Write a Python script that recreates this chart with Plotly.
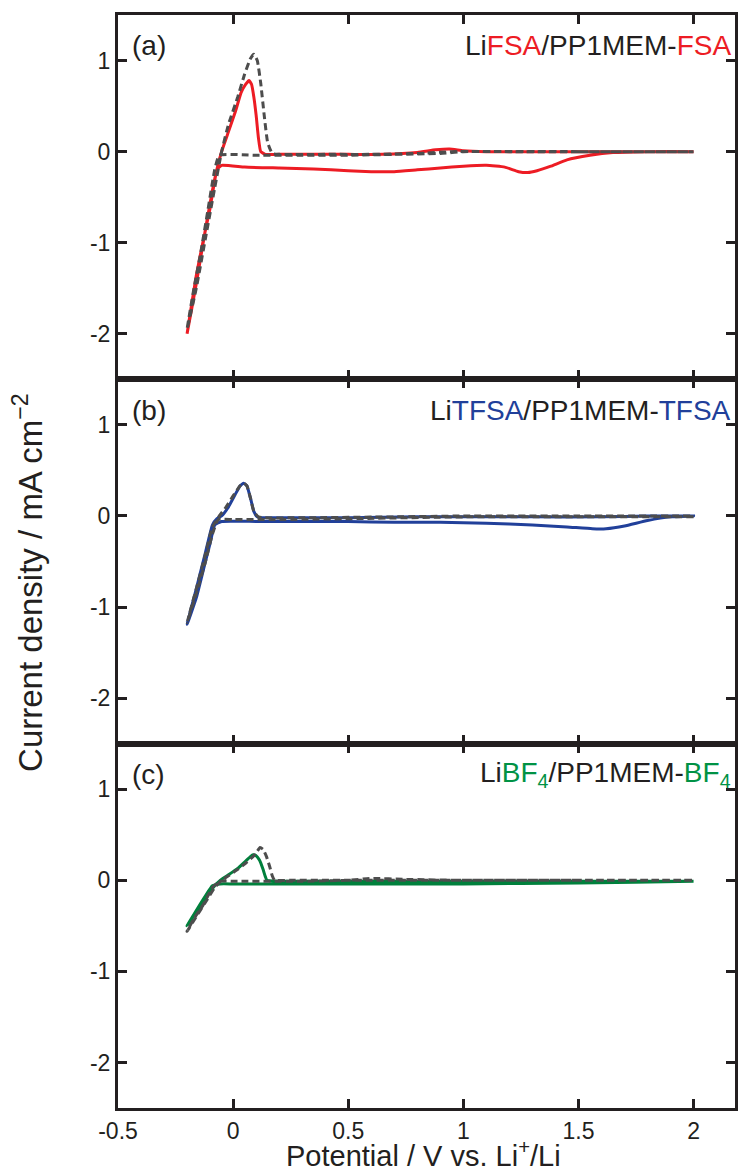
import plotly.graph_objects as go

# ---------------- data ----------------
# panel (a) LiFSA/PP1MEM-FSA : solid red loop
a_solid_x = [2.0, 1.8, 1.65, 1.55, 1.45, 1.38, 1.32, 1.28, 1.24, 1.18, 1.1, 1.0, 0.9, 0.8, 0.7, 0.6, 0.5,
             0.35, 0.2, 0.05, -0.05, -0.07, -0.1, -0.13, -0.16, -0.2,
             -0.16, -0.12, -0.08, -0.05, -0.02, 0.01, 0.035, 0.055, 0.069, 0.08, 0.09, 0.1, 0.11, 0.12,
             0.14, 0.2, 0.35, 0.5, 0.65, 0.8, 0.88, 0.94, 1.0, 1.1, 1.3, 1.5, 1.7, 2.0]
a_solid_y = [0.0, 0.0, -0.01, -0.04, -0.09, -0.16, -0.21, -0.23, -0.22, -0.17, -0.15, -0.16, -0.18, -0.2, -0.22, -0.22, -0.21,
             -0.19, -0.18, -0.17, -0.15, -0.2, -0.62, -0.98, -1.36, -2.0,
             -1.45, -0.85, -0.3, 0.0, 0.22, 0.44, 0.65, 0.74, 0.78, 0.74, 0.6, 0.4, 0.15, 0.0,
             -0.03, -0.03, -0.03, -0.03, -0.03, -0.01, 0.02, 0.03, 0.01, 0.0, 0.0, 0.0, 0.0, 0.0]
# panel (a) dashed grey loop
a_dash_x = [2.0, 1.5, 1.0, 0.9, 0.7, 0.5, 0.3, 0.1, -0.06, -0.08, -0.11, -0.14, -0.17, -0.2,
            -0.16, -0.12, -0.08, -0.05, -0.02, 0.02, 0.05, 0.075, 0.09, 0.105, 0.12, 0.135, 0.15, 0.17,
            0.2, 0.4, 0.6, 0.8, 0.95, 1.2, 1.5, 2.0]
a_dash_y = [0.0, 0.0, 0.0, -0.02, -0.03, -0.04, -0.04, -0.04, -0.04, -0.2, -0.65, -1.1, -1.5, -1.95,
            -1.5, -0.95, -0.4, 0.0, 0.3, 0.6, 0.85, 1.02, 1.07, 1.0, 0.75, 0.4, 0.1, -0.02,
            -0.03, -0.03, -0.03, -0.02, 0.0, 0.0, 0.0, 0.0]

# panel (b) LiTFSA/PP1MEM-TFSA : solid blue loop
b_solid_x = [2.0, 1.9, 1.8, 1.7, 1.62, 1.56, 1.45, 1.3, 1.1, 0.9, 0.7, 0.5, 0.3, 0.1, -0.05, -0.08, -0.1,
             -0.13, -0.16, -0.2,
             -0.16, -0.12, -0.09, -0.07, -0.05, -0.02, 0.01, 0.03, 0.046, 0.06, 0.075, 0.09, 0.105, 0.12,
             0.2, 0.5, 0.8, 1.0, 1.3, 1.6, 1.8, 2.0]
b_solid_y = [0.0, -0.01, -0.05, -0.11, -0.14, -0.14, -0.12, -0.1, -0.08, -0.07, -0.07, -0.06, -0.06, -0.06, -0.06, -0.1, -0.3,
             -0.6, -0.9, -1.19,
             -0.8, -0.4, -0.1, -0.03, 0.0, 0.1, 0.24, 0.33, 0.36, 0.33, 0.2, 0.05, -0.01, -0.02,
             -0.02, -0.02, -0.01, -0.01, -0.01, -0.01, 0.0, 0.0]
b_dash_x = [2.0, 1.5, 1.0, 0.5, 0.2, 0.0, -0.065, -0.09, -0.12, -0.16, -0.2,
            -0.16, -0.12, -0.09, -0.06, -0.03, 0.0, 0.03, 0.047, 0.06, 0.075, 0.09, 0.11, 0.13,
            0.3, 0.7, 1.0, 1.5, 2.0]
b_dash_y = [-0.01, -0.01, -0.01, -0.03, -0.04, -0.04, -0.04, -0.2, -0.5, -0.85, -1.17,
            -0.8, -0.42, -0.12, 0.0, 0.1, 0.22, 0.33, 0.36, 0.33, 0.2, 0.05, -0.01, -0.02,
            -0.02, -0.01, 0.0, 0.0, 0.0]

# panel (c) LiBF4/PP1MEM-BF4 : solid green loop
c_solid_x = [2.0, 1.5, 1.0, 0.5, 0.2, 0.0, -0.056, -0.09, -0.12, -0.15, -0.2,
             -0.17, -0.14, -0.11, -0.08, -0.056, -0.02, 0.02, 0.05, 0.075, 0.087, 0.1, 0.115, 0.13, 0.14, 0.147,
             0.2, 0.5, 1.0, 1.5, 2.0]
c_solid_y = [-0.01, -0.03, -0.04, -0.04, -0.04, -0.04, -0.04, -0.06, -0.17, -0.29, -0.5,
             -0.39, -0.28, -0.16, -0.06, 0.0, 0.06, 0.13, 0.2, 0.26, 0.28, 0.27, 0.22, 0.12, 0.04, 0.0,
             -0.01, -0.01, -0.01, -0.01, -0.01]
c_dash_x = [2.0, 1.5, 1.0, 0.75, 0.6, 0.5, 0.3, 0.0, -0.06, -0.09, -0.13, -0.17, -0.2,
            -0.16, -0.12, -0.08, -0.05, -0.02, 0.02, 0.06, 0.09, 0.105, 0.117, 0.13, 0.145, 0.16, 0.17, 0.18,
            0.25, 0.5, 1.0, 1.5, 2.0]
c_dash_y = [0.0, 0.0, 0.0, 0.01, 0.02, 0.0, -0.01, -0.01, -0.01, -0.08, -0.27, -0.42, -0.56,
            -0.4, -0.24, -0.08, 0.0, 0.05, 0.12, 0.2, 0.27, 0.32, 0.36, 0.34, 0.26, 0.14, 0.05, 0.0,
            0.0, 0.0, 0.0, 0.0, 0.0]

x_tick_vals = [-0.5, 0, 0.5, 1, 1.5, 2]
x_tick_text = ["-0.5", "0", "0.5", "1", "1.5", "2"]
y_tick_vals = [1, 0, -1, -2]
y_tick_text = ["1", "0", "-1", "-2"]
panel_letters = ["(a)", "(b)", "(c)"]

# ---------------- styling ----------------
FONT = "Liberation Sans, Arial, Helvetica, sans-serif"
INK = "#231F20"
GREY = "#4D4D4D"
RED = "#ED1C24"
BLUE = "#21409A"
GREEN_LINE = "#00803C"
GREEN_TXT = "#009245"

panel_titles = [
    f"Li<span style='color:{RED}'>FSA</span>/PP1MEM-<span style='color:{RED}'>FSA</span>",
    f"Li<span style='color:{BLUE}'>TFSA</span>/PP1MEM-<span style='color:{BLUE}'>TFSA</span>",
    f"Li<span style='color:{GREEN_TXT}'>BF<sub>4</sub></span>/PP1MEM-<span style='color:{GREEN_TXT}'>BF<sub>4</sub></span>",
]

fig = go.Figure()
panels = [
    (a_dash_x, a_dash_y, a_solid_x, a_solid_y, RED),
    (b_dash_x, b_dash_y, b_solid_x, b_solid_y, BLUE),
    (c_dash_x, c_dash_y, c_solid_x, c_solid_y, GREEN_LINE),
]
domains = [[2 / 3, 1.0], [1 / 3, 2 / 3], [0.0, 1 / 3]]

for i, (dx, dy, sx, sy, col) in enumerate(panels):
    xa = "x" if i == 0 else f"x{i+1}"
    ya = "y" if i == 0 else f"y{i+1}"
    fig.add_trace(go.Scatter(x=sx, y=sy, mode="lines", xaxis=xa, yaxis=ya,
                             line=dict(color=col, width=3, shape="spline", smoothing=0.4),
                             showlegend=False))
    fig.add_trace(go.Scatter(x=dx, y=dy, mode="lines", xaxis=xa, yaxis=ya,
                             line=dict(color=GREY, width=3, dash="7px,4px", shape="spline", smoothing=0.4),
                             showlegend=False))

axis_common = dict(showline=True, mirror="allticks", linecolor=INK, linewidth=3,
                   ticks="inside", ticklen=9, tickwidth=2.5, tickcolor=INK,
                   showgrid=False, zeroline=False,
                   tickfont=dict(family=FONT, size=23, color=INK))

layout = dict(width=740, height=1173, margin=dict(l=118, r=2, t=15, b=65),
              paper_bgcolor="white", plot_bgcolor="white",
              font=dict(family=FONT, color=INK))

for i in range(3):
    xk = "xaxis" if i == 0 else f"xaxis{i+1}"
    yk = "yaxis" if i == 0 else f"yaxis{i+1}"
    ya = "y" if i == 0 else f"y{i+1}"
    xa = "x" if i == 0 else f"x{i+1}"
    layout[xk] = dict(axis_common, range=[-0.5, 2.18], tickvals=x_tick_vals, ticktext=x_tick_text,
                      showticklabels=(i == 2), anchor=ya, domain=[0, 1],
                      **({} if i == 0 else {"matches": "x"}))
    layout[yk] = dict(axis_common, range=[-2.5, 1.5], tickvals=y_tick_vals, ticktext=y_tick_text,
                      anchor=xa, domain=domains[i])

fig.update_layout(**layout)

for i in range(3):
    xr = "x domain" if i == 0 else f"x{i+1} domain"
    yr = "y domain" if i == 0 else f"y{i+1} domain"
    fig.add_annotation(x=0.02, y=0.915, xref=xr, yref=yr, text=panel_letters[i], showarrow=False,
                       xanchor="left", yanchor="middle", font=dict(family=FONT, size=28, color=INK))
    fig.add_annotation(x=0.997, y=0.915, xref=xr, yref=yr, text=panel_titles[i], showarrow=False,
                       xanchor="right", yanchor="middle", font=dict(family=FONT, size=28, color=INK))

fig.add_annotation(x=-0.145, y=0.48, xref="paper", yref="paper", textangle=-90,
                   text="Current density / mA cm<sup>\u22122</sup>", showarrow=False,
                   xanchor="center", yanchor="middle", font=dict(family=FONT, size=33, color=INK))
fig.add_annotation(x=0.495, y=-0.0605, xref="paper", yref="paper",
                   text="Potential / V vs. Li<sup>+</sup>/Li", showarrow=False,
                   xanchor="center", yanchor="bottom", font=dict(family=FONT, size=29, color=INK))

fig.write_html("out.html")
